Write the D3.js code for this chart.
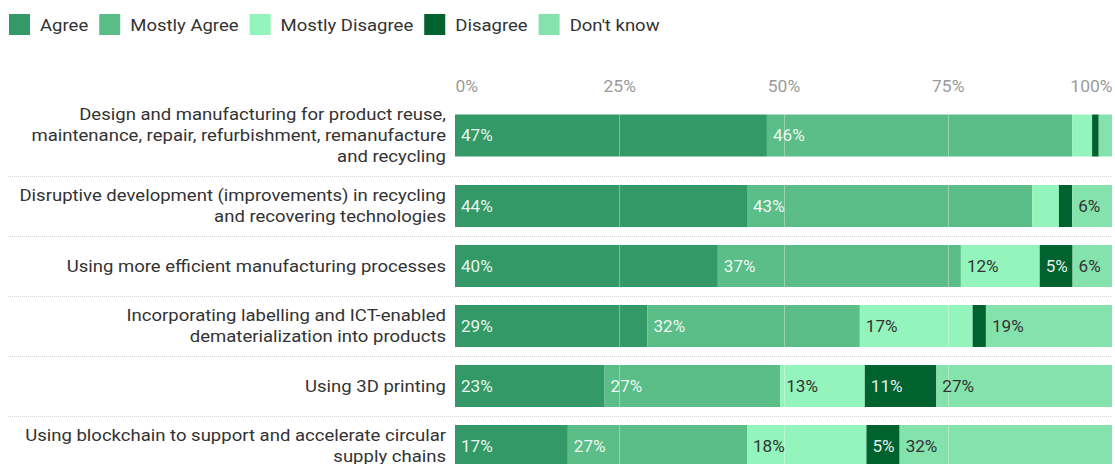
<!DOCTYPE html>
<html>
<head>
<meta charset="utf-8">
<script src="https://cdn.jsdelivr.net/npm/d3@7"></script>
<style>
  html, body { margin: 0; padding: 0; background: #fff; }
  svg { display: block; font-family: Roboto, "Noto Sans", sans-serif; }
</style>
</head>
<body>
<svg id="chart" width="1115" height="464"></svg>
<script>
// Survey answers per circular-economy measure (percent of respondents)
const categories = [
  "Design and manufacturing for product reuse,\nmaintenance, repair, refurbishment, remanufacture\nand recycling",
  "Disruptive development (improvements) in recycling\nand recovering technologies",
  "Using more efficient manufacturing processes",
  "Incorporating labelling and ICT-enabled\ndematerialization into products",
  "Using 3D printing",
  "Using blockchain to support and accelerate circular\nsupply chains"
];
const seriesNames = ["Agree", "Mostly Agree", "Mostly Disagree", "Disagree", "Don't know"];
const agree          = [47, 44, 40, 29, 23, 17];
const mostlyAgree    = [46, 43, 37, 32, 27, 27];
const mostlyDisagree = [3, 4, 12, 17, 13, 18];
const disagree       = [1, 2, 5, 2, 11, 5];
const dontKnow       = [2, 6, 6, 19, 27, 32];
const tickValues = [0, 0.25, 0.5, 0.75, 1];
const tickLabels = ["0%", "25%", "50%", "75%", "100%"];

const colors = ["#339966", "#5bbd88", "#93f5bb", "#00632f", "#84e3ad"];
const labelColors = ["rgba(255,255,255,0.92)", "rgba(255,255,255,0.92)", "#333", "rgba(255,255,255,0.92)", "#333"];

const seriesValues = [agree, mostlyAgree, mostlyDisagree, disagree, dontKnow];
const rows = categories.map((c, i) => {
  const r = { category: c };
  seriesNames.forEach((s, k) => { r[s] = seriesValues[k][i]; });
  return r;
});

const svg = d3.select("#chart");

// Layout
const barLeft = 455, barRight = 1112;
const barH = 42, lineH = 21, rowPad = 18, rowsTop = 95;
const stretch = 1.09;   // slightly wide lettering
const x = d3.scaleLinear().domain([0, 1]).range([barLeft, barRight]);

// Each row grows with the number of label lines
let yPos = rowsTop;
const layout = rows.map(r => {
  const lines = r.category.split("\n");
  const h = Math.max(barH, lines.length * lineH) + rowPad;
  const o = { top: yPos, h, center: yPos + h / 2, lines };
  yPos += h;
  return o;
});

// Text anchored at (px, py), widened horizontally around its anchor
function wideText(parent, px, py, scale) {
  return parent.append("g")
    .attr("transform", `translate(${px},${py}) scale(${scale},1)`)
    .append("text");
}

// Legend
const legend = svg.append("g").attr("transform", "translate(9,14)");
let lx = 0;
seriesNames.forEach((name, k) => {
  const g = legend.append("g").attr("transform", `translate(${lx},0)`);
  g.append("rect").attr("width", 21).attr("height", 21).attr("fill", colors[k]);
  const t = wideText(g, 31, 11, stretch).attr("dy", "0.35em")
    .attr("font-size", 17).attr("fill", "#333").text(name);
  lx += 31 + t.node().getComputedTextLength() * stretch + 11;
});

// Axis labels on top
const axis = d3.axisTop(x).tickValues(tickValues).tickFormat((d, i) => tickLabels[i]).tickSize(0).tickPadding(0);
const axG = svg.append("g").attr("transform", "translate(0,92)").call(axis);
axG.select(".domain").remove();
axG.selectAll(".tick text")
  .attr("font-family", "Roboto, sans-serif").attr("font-size", 16).attr("fill", "#9a9a9a")
  .attr("transform", `scale(${stretch},1)`)
  .attr("text-anchor", (d, i) => i === 0 ? "start" : (i === tickValues.length - 1 ? "end" : "middle"));

// Row separators
layout.slice(1).forEach(l => {
  svg.append("line").attr("x1", 8).attr("x2", barRight)
    .attr("y1", l.top + 0.5).attr("y2", l.top + 0.5)
    .attr("stroke", "#d6d6d6").attr("stroke-dasharray", "1,1");
});

// Row labels
layout.forEach(l => {
  const t = wideText(svg, 446, l.center, stretch)
    .attr("text-anchor", "end").attr("font-size", 17).attr("fill", "#333");
  const n = l.lines.length;
  l.lines.forEach((line, j) => {
    t.append("tspan").attr("x", 0)
      .attr("y", (j - (n - 1) / 2) * lineH)
      .attr("dy", "0.35em").text(line);
  });
});

// Stacked bars normalised to 100%
const stack = d3.stack().keys(seriesNames).offset(d3.stackOffsetExpand);
const stacked = stack(rows);
const fmt = d3.format(".0f");

stacked.forEach((series, k) => {
  const g = svg.append("g");
  series.forEach((d, i) => {
    const l = layout[i];
    g.append("rect")
      .attr("x", x(d[0])).attr("width", x(d[1]) - x(d[0]))
      .attr("y", l.center - barH / 2).attr("height", barH)
      .attr("fill", colors[k]);
  });
});

// Light grid lines over the bars
layout.forEach(l => {
  [0.25, 0.5, 0.75].forEach(v => {
    svg.append("line").attr("x1", Math.round(x(v)) + 0.5).attr("x2", Math.round(x(v)) + 0.5)
      .attr("y1", l.center - barH / 2).attr("y2", l.center + barH / 2)
      .attr("stroke", "#fff").attr("stroke-opacity", 0.35);
  });
});

// Value labels
stacked.forEach((series, k) => {
  series.forEach((d, i) => {
    const v = d.data[seriesNames[k]];
    if (v < 5) return;
    wideText(svg, x(d[0]) + 6, layout[i].center, 1.07).attr("dy", "0.35em")
      .attr("font-size", 16).attr("fill", labelColors[k])
      .text(fmt(v) + "%");
  });
});
</script>
</body>
</html>
